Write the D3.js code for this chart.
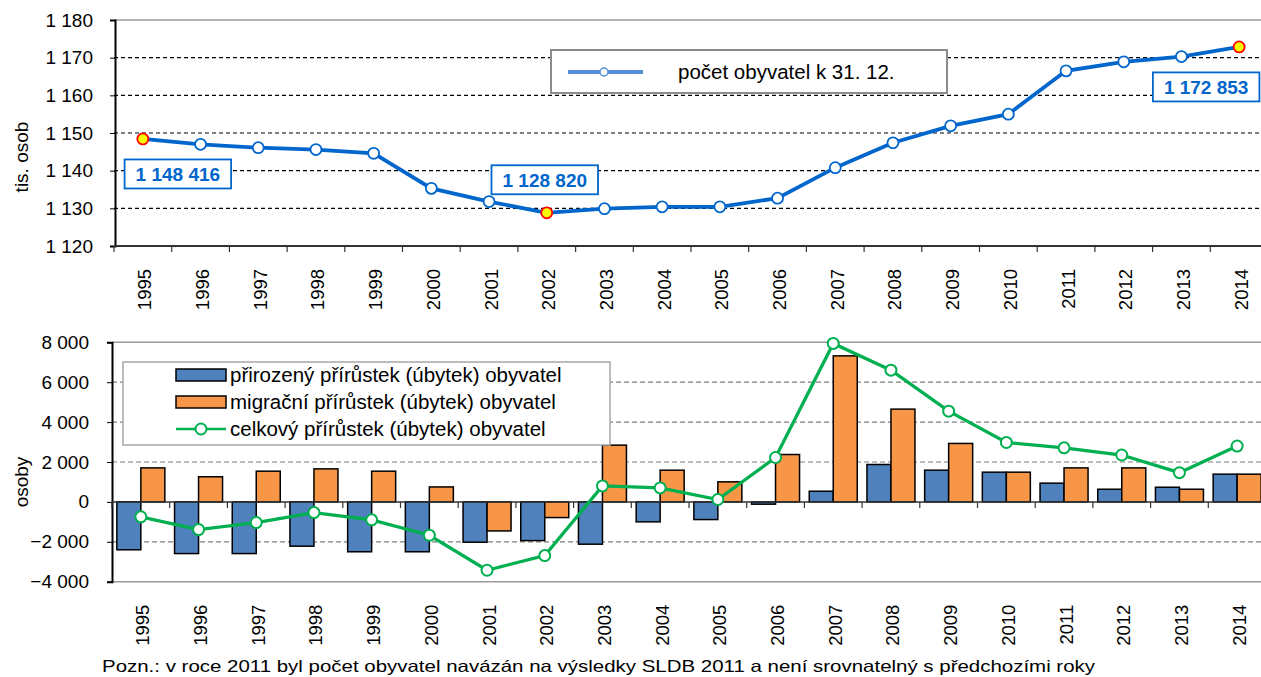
<!DOCTYPE html>
<html lang="cs">
<head>
<meta charset="UTF-8">
<title>Počet obyvatel a přírůstky 1995–2014</title>
<script src="https://d3js.org/d3.v7.min.js"></script>
<style>
  body { margin: 0; background: #fff; }
  svg { display: block; font-family: "Liberation Sans", Arial, sans-serif; }
  .tick text { fill: #000; }
</style>
</head>
<body>
<svg width="1261" height="677"></svg>
<script>
const years = ["1995","1996","1997","1998","1999","2000","2001","2002","2003","2004",
               "2005","2006","2007","2008","2009","2010","2011","2012","2013","2014"];

// počet obyvatel k 31. 12. (tis. osob)
const pocet = [1148.416, 1147.0, 1146.1, 1145.6, 1144.6, 1135.3, 1131.8, 1128.820, 1129.9, 1130.4,
               1130.4, 1132.7, 1140.8, 1147.4, 1151.9, 1155.0, 1166.5, 1168.9, 1170.3, 1172.853];

// přírůstky (osoby)
const prirozeny = [-2400, -2590, -2590, -2220, -2500, -2500, -2020, -1940, -2120, -1000,
                   -885, -115, 535, 1875, 1590, 1490, 940, 635, 735, 1390];
const migracni  = [1705, 1260, 1540, 1655, 1540, 750, -1455, -785, 2845, 1590,
                   1005, 2375, 7320, 4650, 2930, 1490, 1705, 1705, 635, 1390];
const celkovy   = [-750, -1385, -1035, -535, -900, -1670, -3425, -2690, 800, 700,
                   120, 2225, 7945, 6605, 4550, 2980, 2710, 2350, 1465, 2800];

const topTicks = [1120, 1130, 1140, 1150, 1160, 1170, 1180];
const bottomTicks = [-4000, -2000, 0, 2000, 4000, 6000, 8000];

const highlights = [
  { year: "1995", label: "1 148 416", dx: 35, dy: 35 },
  { year: "2002", label: "1 128 820", dx: -2, dy: -33 },
  { year: "2014", label: "1 172 853", dx: -33, dy: 40 }
];

const svg = d3.select("svg");
const spaceFmt = v => d3.format(",")(v).replace(/,/g, " ");

// ---------- horní graf ----------
const xTop = d3.scaleBand().domain(years).range([114, 1268]);
const yTop = d3.scaleLinear().domain([1120, 1180]).range([246, 20]);
const cx = d => xTop(d) + xTop.bandwidth() / 2;

const gTop = svg.append("g");

gTop.selectAll(".grid")
  .data(topTicks.filter(t => t > 1120 && t < 1180))
  .enter().append("line")
    .attr("x1", 114).attr("x2", 1268)
    .attr("y1", d => yTop(d)).attr("y2", d => yTop(d))
    .attr("stroke", "#000").attr("stroke-width", 1.2)
    .attr("stroke-dasharray", "4,3");

gTop.append("line")
  .attr("x1", 114).attr("x2", 1268)
  .attr("y1", yTop(1180)).attr("y2", yTop(1180))
  .attr("stroke", "#999").attr("stroke-width", 1.5);

gTop.append("g")
  .attr("transform", "translate(115,0)")
  .call(d3.axisLeft(yTop).tickValues(topTicks).tickSize(5).tickPadding(17).tickFormat(spaceFmt))
  .call(g => g.select(".domain").attr("stroke", "#000").attr("stroke-width", 2))
  .call(g => g.selectAll(".tick line").attr("stroke", "#000"))
  .call(g => g.selectAll(".tick text").attr("font-size", 19));

// osa x
gTop.append("line")
  .attr("x1", 114).attr("x2", 1268)
  .attr("y1", 246).attr("y2", 246)
  .attr("stroke", "#333").attr("stroke-width", 2);
gTop.selectAll(".xt")
  .data(years.concat(["end"]))
  .enter().append("line")
    .attr("x1", d => d === "end" ? 1268 : xTop(d))
    .attr("x2", d => d === "end" ? 1268 : xTop(d))
    .attr("y1", 246).attr("y2", 252)
    .attr("stroke", "#333").attr("stroke-width", 1.2);

gTop.append("g")
  .attr("transform", "translate(0,246)")
  .call(d3.axisBottom(xTop).tickSize(0))
  .call(g => g.select(".domain").remove())
  .call(g => g.selectAll(".tick text")
    .attr("transform", "rotate(-90)")
    .attr("text-anchor", "end")
    .attr("x", -23).attr("y", 2).attr("dy", "0.35em")
    .attr("font-size", 18.5));

gTop.append("text")
  .attr("transform", "translate(28,157) rotate(-90)")
  .attr("text-anchor", "middle")
  .attr("font-size", 19)
  .text("tis. osob");

const topData = years.map((y, i) => ({ year: y, value: pocet[i] }));

gTop.append("path")
  .datum(topData)
  .attr("fill", "none")
  .attr("stroke", "#0066cc")
  .attr("stroke-width", 3.8)
  .attr("d", d3.line().x(d => cx(d.year)).y(d => yTop(d.value)));

const hlYears = highlights.map(h => h.year);
gTop.selectAll(".pt")
  .data(topData)
  .enter().append("circle")
    .attr("cx", d => cx(d.year))
    .attr("cy", d => yTop(d.value))
    .attr("r", 5.5)
    .attr("fill", d => hlYears.includes(d.year) ? "#ffff00" : "#fff")
    .attr("stroke", d => hlYears.includes(d.year) ? "#ff0000" : "#0066cc")
    .attr("stroke-width", 1.8);

highlights.forEach(h => {
  const v = pocet[years.indexOf(h.year)];
  const px = cx(h.year) + h.dx, py = yTop(v) + h.dy;
  const g = gTop.append("g");
  const rect = g.append("rect")
    .attr("fill", "#fff").attr("stroke", "#0066cc").attr("stroke-width", 1.8);
  const t = g.append("text")
    .attr("x", px).attr("y", py).attr("dy", "0.36em")
    .attr("text-anchor", "middle")
    .attr("font-size", 19).attr("font-weight", "bold")
    .attr("fill", "#0066cc")
    .text(h.label);
  const w = t.node().getComputedTextLength() + 22;
  rect.attr("x", px - w / 2).attr("y", py - 14.5).attr("width", w).attr("height", 29);
});

// legenda nahoře
const lg = gTop.append("g");
lg.append("rect")
  .attr("x", 551).attr("y", 50).attr("width", 396).attr("height", 43)
  .attr("fill", "#fff").attr("stroke", "#8c8c8c").attr("stroke-width", 2);
lg.append("line")
  .attr("x1", 568).attr("x2", 643).attr("y1", 72).attr("y2", 72)
  .attr("stroke", "#558ed5").attr("stroke-width", 4);
lg.append("circle")
  .attr("cx", 604).attr("cy", 72).attr("r", 4)
  .attr("fill", "#fff").attr("stroke", "#558ed5").attr("stroke-width", 1.5);
lg.append("text")
  .attr("x", 678).attr("y", 72).attr("dy", "0.35em")
  .attr("font-size", 20.5)
  .text("počet obyvatel k 31. 12.");

// ---------- dolní graf ----------
const xBot = d3.scaleBand().domain(years).range([112, 1266]);
const yBot = d3.scaleLinear().domain([-4000, 8000]).range([581.7, 342.3]);
const xIn = d3.scaleBand().domain(["prirozeny", "migracni"]).range([-24, 24]);
const bx = d => xBot(d) + xBot.bandwidth() / 2;

const gBot = svg.append("g");

gBot.selectAll(".grid")
  .data(bottomTicks.filter(t => t !== 0 && t !== -4000 && t !== 8000))
  .enter().append("line")
    .attr("x1", 112).attr("x2", 1266)
    .attr("y1", d => yBot(d)).attr("y2", d => yBot(d))
    .attr("stroke", "#808080").attr("stroke-width", 1.2)
    .attr("stroke-dasharray", "5,3");

[-4000, 8000].forEach(v => {
  gBot.append("line")
    .attr("x1", 112).attr("x2", 1266)
    .attr("y1", yBot(v)).attr("y2", yBot(v))
    .attr("stroke", "#999").attr("stroke-width", 1.5);
});

gBot.append("g")
  .attr("transform", "translate(112,0)")
  .call(d3.axisLeft(yBot).tickValues(bottomTicks).tickSize(5).tickPadding(18).tickFormat(spaceFmt))
  .call(g => g.select(".domain").attr("stroke", "#000").attr("stroke-width", 2))
  .call(g => g.selectAll(".tick line").attr("stroke", "#000"))
  .call(g => g.selectAll(".tick text").attr("font-size", 19));

gBot.append("text")
  .attr("transform", "translate(28,482) rotate(-90)")
  .attr("text-anchor", "middle")
  .attr("font-size", 19)
  .text("osoby");

const barData = [];
years.forEach((y, i) => {
  barData.push({ year: y, key: "prirozeny", value: prirozeny[i] });
  barData.push({ year: y, key: "migracni", value: migracni[i] });
});
const colors = { prirozeny: "#4f81bd", migracni: "#f79646" };

gBot.selectAll(".bar")
  .data(barData)
  .enter().append("rect")
    .attr("x", d => bx(d.year) + xIn(d.key))
    .attr("width", xIn.bandwidth())
    .attr("y", d => yBot(Math.max(0, d.value)))
    .attr("height", d => Math.abs(yBot(d.value) - yBot(0)))
    .attr("fill", d => colors[d.key])
    .attr("stroke", "#000").attr("stroke-width", 1.5);

// nulová osa
gBot.append("line")
  .attr("x1", 112).attr("x2", 1266)
  .attr("y1", yBot(0)).attr("y2", yBot(0))
  .attr("stroke", "#333").attr("stroke-width", 1.5);
gBot.selectAll(".xt")
  .data(years.concat(["end"]))
  .enter().append("line")
    .attr("x1", d => d === "end" ? 1266 : xBot(d))
    .attr("x2", d => d === "end" ? 1266 : xBot(d))
    .attr("y1", yBot(0)).attr("y2", yBot(0) + 6)
    .attr("stroke", "#333").attr("stroke-width", 1.2);

gBot.append("g")
  .attr("transform", "translate(0,581.7)")
  .call(d3.axisBottom(xBot).tickSize(0))
  .call(g => g.select(".domain").remove())
  .call(g => g.selectAll(".tick text")
    .attr("transform", "rotate(-90)")
    .attr("text-anchor", "end")
    .attr("x", -23).attr("y", 2).attr("dy", "0.35em")
    .attr("font-size", 18.5));

const totData = years.map((y, i) => ({ year: y, value: celkovy[i] }));
gBot.append("path")
  .datum(totData)
  .attr("fill", "none")
  .attr("stroke", "#00b050")
  .attr("stroke-width", 3.3)
  .attr("d", d3.line().x(d => bx(d.year)).y(d => yBot(d.value)));
gBot.selectAll(".tp")
  .data(totData)
  .enter().append("circle")
    .attr("cx", d => bx(d.year))
    .attr("cy", d => yBot(d.value))
    .attr("r", 5.5)
    .attr("fill", "#fff")
    .attr("stroke", "#00b050").attr("stroke-width", 2);

// legenda dole
const lb = gBot.append("g");
lb.append("rect")
  .attr("x", 123).attr("y", 362).attr("width", 487).attr("height", 83)
  .attr("fill", "#fff").attr("stroke", "#a6a6a6").attr("stroke-width", 1.5);
const legItems = [
  { type: "bar", color: colors.prirozeny, label: "přirozený přírůstek (úbytek) obyvatel" },
  { type: "bar", color: colors.migracni, label: "migrační přírůstek (úbytek) obyvatel" },
  { type: "line", color: "#00b050", label: "celkový přírůstek (úbytek) obyvatel" }
];
legItems.forEach((d, i) => {
  const yy = 375 + i * 27;
  if (d.type === "bar") {
    lb.append("rect")
      .attr("x", 176).attr("y", yy - 6).attr("width", 50).attr("height", 12)
      .attr("fill", d.color).attr("stroke", "#000").attr("stroke-width", 1.5);
  } else {
    lb.append("line")
      .attr("x1", 176).attr("x2", 226).attr("y1", yy).attr("y2", yy)
      .attr("stroke", d.color).attr("stroke-width", 2.5);
    lb.append("circle")
      .attr("cx", 201).attr("cy", yy).attr("r", 5.5)
      .attr("fill", "#fff").attr("stroke", d.color).attr("stroke-width", 2);
  }
  lb.append("text")
    .attr("x", 230).attr("y", yy).attr("dy", "0.35em")
    .attr("font-size", 20.5)
    .text(d.label);
});

// poznámka
svg.append("text")
  .attr("x", 102).attr("y", 672)
  .attr("font-size", 16.5)
  .attr("textLength", 993)
  .attr("lengthAdjust", "spacingAndGlyphs")
  .text("Pozn.: v roce 2011 byl počet obyvatel  navázán na výsledky SLDB 2011 a není srovnatelný s předchozími roky");
</script>
</body>
</html>
